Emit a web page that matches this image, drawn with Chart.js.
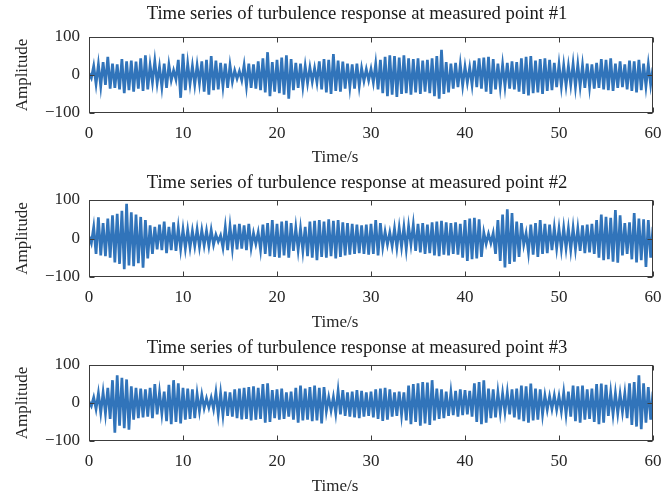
<!DOCTYPE html>
<html>
<head>
<meta charset="utf-8">
<script src="https://cdn.jsdelivr.net/npm/chart.js@4/dist/chart.umd.min.js"></script>
<style>
  html, body { margin: 0; padding: 0; background: #ffffff; }
  #wrap { position: relative; width: 661px; height: 500px; overflow: hidden; background: #ffffff; }
  #wrap canvas { position: absolute; left: 0; top: 0; }
</style>
</head>
<body>
<div id="wrap">
  <canvas id="c1" width="661" height="500"></canvas>
  <canvas id="c2" width="661" height="500"></canvas>
  <canvas id="c3" width="661" height="500"></canvas>
</div>
<script>
// Sampling: positive peaks every 0.5 s, negative troughs half a step later.
const sampleStep = 0.5;
const timeTicks = [0, 10, 20, 30, 40, 50, 60];
const amplitudeTicks = [-100, 0, 100];
const panelTitles = [
  'Time series of turbulence response at measured point #1',
  'Time series of turbulence response at measured point #2',
  'Time series of turbulence response at measured point #3'
];
const xAxisLabel = 'Time/s';
const yAxisLabel = 'Amplitude';

// Measured point #1
const peaks1 = [5, 24, 28, 34, 48, 30, 28, 42, 36, 38, 35, 44, 52, 26, 37, 22, 30, 27, 12, 40,
  56, 30, 24, 26, 36, 40, 50, 38, 32, 30, 26, 12, 10, 26, 30, 28, 36, 44, 60, 34,
  40, 46, 52, 42, 32, 30, 24, 20, 18, 36, 42, 40, 55, 38, 35, 30, 28, 30, 18, 15,
  16, 30, 40, 48, 52, 50, 46, 52, 44, 42, 44, 38, 40, 44, 50, 66, 34, 30, 32, 28,
  22, 20, 38, 44, 46, 48, 42, 30, 28, 32, 36, 34, 44, 48, 50, 38, 42, 44, 40, 32,
  28, 26, 24, 30, 28, 26, 30, 28, 32, 42, 40, 44, 30, 36, 28, 38, 36, 40, 30, 28, 20];
const troughs1 = [-8, -24, -30, -26, -36, -34, -38, -48, -40, -44, -36, -42, -38, -20, -22, -32, -34, -14, -12, -60,
  -40, -24, -26, -22, -44, -52, -40, -38, -30, -34, -18, -10, -14, -30, -34, -36, -40, -46, -56, -44,
  -48, -52, -62, -40, -34, -30, -22, -18, -20, -38, -46, -50, -42, -44, -36, -32, -36, -30, -16, -14,
  -20, -38, -48, -56, -52, -58, -50, -48, -52, -46, -50, -44, -48, -56, -62, -50, -46, -36, -32, -28,
  -20, -26, -32, -36, -44, -50, -38, -32, -30, -36, -38, -44, -50, -54, -48, -46, -50, -42, -40, -32,
  -30, -28, -26, -32, -30, -34, -32, -36, -34, -38, -40, -42, -34, -32, -38, -42, -46, -40, -30, -26];

// Measured point #2
const peaks2 = [6, 30, 55, 40, 52, 60, 64, 72, 90, 68, 62, 56, 48, 34, 30, 36, 44, 30, 42, 28,
  24, 22, 20, 24, 22, 20, 22, 10, 8, 30, 32, 36, 38, 34, 38, 14, 16, 36, 40, 48,
  38, 44, 46, 40, 28, 26, 30, 44, 46, 48, 44, 50, 46, 48, 42, 40, 38, 36, 34, 36,
  38, 48, 40, 18, 16, 26, 28, 30, 32, 36, 38, 40, 36, 42, 44, 46, 42, 40, 42, 38,
  48, 52, 54, 50, 16, 12, 14, 48, 62, 76, 66, 44, 40, 14, 36, 40, 48, 38, 36, 28,
  26, 28, 26, 28, 26, 34, 36, 38, 48, 62, 56, 54, 74, 60, 40, 42, 66, 52, 50, 48, 30];
const troughs2 = [-12, -40, -44, -46, -50, -62, -66, -80, -70, -72, -64, -76, -52, -40, -28, -30, -38, -30, -32, -28,
  -26, -24, -20, -22, -18, -20, -16, -8, -24, -30, -26, -28, -26, -30, -24, -14, -30, -40, -46, -48,
  -50, -44, -50, -32, -30, -32, -46, -50, -56, -48, -50, -46, -52, -48, -44, -42, -40, -38, -40, -42,
  -40, -44, -22, -16, -20, -24, -22, -28, -16, -32, -36, -40, -38, -44, -46, -42, -44, -40, -42, -50,
  -58, -54, -52, -48, -14, -12, -40, -58, -75, -66, -60, -48, -16, -36, -42, -48, -40, -38, -30, -26,
  -28, -26, -30, -28, -32, -38, -36, -40, -50, -56, -54, -60, -63, -44, -40, -54, -62, -56, -74, -50];

// Measured point #3
const peaks3 = [4, 15, 26, 28, 40, 60, 73, 66, 62, 44, 40, 38, 36, 40, 50, 28, 30, 48, 60, 52,
  40, 38, 36, 24, 22, 12, 14, 28, 26, 30, 28, 36, 38, 40, 42, 44, 40, 50, 52, 34,
  36, 38, 28, 30, 40, 46, 38, 42, 46, 40, 42, 15, 16, 32, 34, 28, 30, 34, 32, 28,
  30, 36, 38, 40, 36, 28, 30, 28, 46, 50, 52, 55, 54, 60, 38, 36, 30, 28, 32, 36,
  34, 32, 52, 55, 60, 38, 36, 28, 26, 28, 36, 38, 46, 44, 51, 38, 36, 20, 18, 20,
  18, 28, 30, 46, 44, 46, 36, 38, 50, 51, 48, 28, 26, 24, 26, 52, 55, 73, 52, 42, 30];
const troughs3 = [-8, -16, -26, -28, -42, -78, -60, -66, -70, -44, -40, -38, -36, -40, -30, -28, -48, -56, -50, -54,
  -44, -42, -40, -22, -14, -12, -16, -30, -32, -34, -36, -40, -43, -42, -46, -44, -42, -52, -50, -40,
  -44, -42, -36, -44, -52, -46, -44, -48, -46, -54, -22, -20, -28, -30, -34, -36, -38, -40, -36, -34,
  -38, -42, -47, -44, -36, -34, -32, -46, -56, -50, -60, -54, -58, -46, -42, -40, -34, -32, -36, -32,
  -30, -36, -50, -56, -52, -40, -38, -26, -24, -30, -38, -43, -48, -52, -46, -44, -30, -18, -16, -18,
  -22, -30, -36, -48, -52, -44, -42, -50, -56, -52, -34, -30, -28, -24, -40, -58, -62, -69, -52, -44];

const SERIF = "'Liberation Serif', 'Times New Roman', serif";
const INK = '#262626';
const LINE_BLUE = '#3174ba';

// Interleave peaks and troughs into one oscillating trace.
function buildSeries(peaks, troughs) {
  const pts = [];
  for (let i = 0; i < peaks.length; i++) {
    pts.push({ x: i * sampleStep, y: peaks[i] });
    if (i < troughs.length) pts.push({ x: i * sampleStep + sampleStep / 2, y: troughs[i] });
  }
  return pts;
}

const fmtTick = v => (v < 0 ? '\u2212' + Math.abs(v) : String(v));

// Boxed axes with inward tick marks, plus the panel title and time label.
const framePlugin = {
  id: 'frame',
  afterDatasetsDraw(chart, args, opts) {
    const { ctx, chartArea: a, scales } = chart;
    const L = Math.round(a.left) + 0.5, R = Math.round(a.right) - 0.5;
    const T = Math.round(a.top) + 0.5, B = Math.round(a.bottom) - 0.5;
    ctx.save();
    ctx.strokeStyle = '#3c3c3c';
    ctx.lineWidth = 1;
    ctx.strokeRect(L, T, R - L, B - T);
    ctx.beginPath();
    for (const v of timeTicks) {
      const px = Math.round(scales.x.getPixelForValue(v)) + 0.5;
      ctx.moveTo(px, T); ctx.lineTo(px, T + 5);
      ctx.moveTo(px, B); ctx.lineTo(px, B - 5);
    }
    for (const v of amplitudeTicks) {
      const py = Math.round(scales.y.getPixelForValue(v)) + 0.5;
      ctx.moveTo(L, py); ctx.lineTo(L + 5, py);
      ctx.moveTo(R, py); ctx.lineTo(R - 5, py);
    }
    ctx.stroke();

    ctx.fillStyle = '#1a1a1a';
    ctx.textAlign = 'center';
    ctx.textBaseline = 'middle';
    ctx.font = '18.7px ' + SERIF;
    ctx.fillText(opts.title, opts.titleX, opts.titleY);
    ctx.fillStyle = INK;
    ctx.font = '17px ' + SERIF;
    ctx.fillText(xAxisLabel, opts.xLabelX, opts.xLabelY);
    ctx.restore();
  }
};

function makePanel(canvasId, title, peaks, troughs, geo) {
  const labelFont = { family: SERIF, size: 17, weight: 'normal' };
  const xAxisHeight = 36;
  return new Chart(document.getElementById(canvasId), {
    type: 'line',
    data: {
      datasets: [{
        data: buildSeries(peaks, troughs),
        borderColor: LINE_BLUE,
        borderWidth: 2.7,
        pointRadius: 0,
        tension: 0,
        fill: false
      }]
    },
    options: {
      responsive: false,
      animation: false,
      devicePixelRatio: 1,
      layout: { padding: { left: 0, right: 8, top: geo.boxTop, bottom: 500 - geo.boxBottom - xAxisHeight } },
      plugins: {
        legend: { display: false },
        tooltip: { enabled: false },
        title: { display: false },
        frame: { title: title, titleX: 357, titleY: geo.titleY, xLabelX: 335, xLabelY: geo.xLabelY }
      },
      scales: {
        x: {
          type: 'linear',
          min: 0,
          max: 60,
          afterBuildTicks: s => { s.ticks = timeTicks.map(v => ({ value: v })); },
          afterFit: s => { s.height = xAxisHeight; s.paddingLeft = 0; s.paddingRight = 0; },
          grid: { display: false, drawTicks: false },
          border: { display: false },
          ticks: { font: labelFont, color: INK, padding: 10, maxRotation: 0, autoSkip: false, callback: fmtTick }
        },
        y: {
          type: 'linear',
          min: -100,
          max: 100,
          afterBuildTicks: s => { s.ticks = amplitudeTicks.map(v => ({ value: v })); },
          afterFit: s => { s.width = 89; s.paddingTop = 0; s.paddingBottom = 0; },
          grid: { display: false, drawTicks: false },
          border: { display: false },
          ticks: { font: labelFont, color: INK, padding: 9, autoSkip: false, callback: fmtTick },
          title: { display: true, text: yAxisLabel, font: labelFont, color: INK, padding: { top: 12, bottom: 0 } }
        }
      }
    },
    plugins: [framePlugin]
  });
}

makePanel('c1', panelTitles[0], peaks1, troughs1, { boxTop: 37, boxBottom: 113, titleY: 14.5, xLabelY: 158 });
makePanel('c2', panelTitles[1], peaks2, troughs2, { boxTop: 200, boxBottom: 277, titleY: 183.5, xLabelY: 323 });
makePanel('c3', panelTitles[2], peaks3, troughs3, { boxTop: 365, boxBottom: 441, titleY: 348.5, xLabelY: 487 });
</script>
</body>
</html>
